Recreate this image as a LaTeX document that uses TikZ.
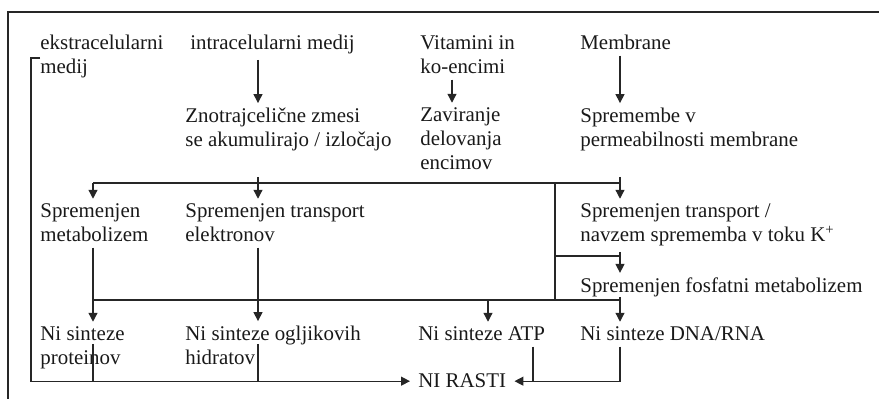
\documentclass[tikz,border=0pt]{standalone}
\usepackage{fontspec}
\setmainfont{Liberation Serif}
\usepackage{tikz}
\usetikzlibrary{arrows.meta}
\tikzset{
  txt/.style={anchor=base west, inner xsep=0pt, inner ysep=2.5pt, align=left,
    font=\fontsize{10.45}{12}\selectfont, text=black!90},
  ln/.style={line width=0.65pt, draw=black!85},
  arr/.style={ln, -{Triangle[length=4.5pt,width=4.5pt]}}
}

\begin{document}
\begin{tikzpicture}[x=0.5pt,y=-0.5pt]
\useasboundingbox (0,0) rectangle (879,399);
\draw[line width=1pt, black!85] (879,12) -- (8,12) -- (8,399);

\coordinate (xa) at (93,0);
\coordinate (xb) at (258,0);
\coordinate (xc) at (452,0);
\coordinate (xd) at (488,0);
\coordinate (xe) at (555,0);
\coordinate (xf) at (620,0);
\coordinate (xg) at (533,0);
\coordinate (stubA) at (0,177);
\coordinate (busA) at (0,183);
\coordinate (busC) at (0,256);
\coordinate (stubB) at (0,297);
\coordinate (busB) at (0,300);

\node[txt] (ekstra) at (40,74) {ekstracelularni\\medij};
\node[txt] (intra) at (190,50) {intracelularni medij};
\node[txt] (vit) at (420,74) {Vitamini in\\ko-encimi};
\node[txt] (membr) at (580,50) {Membrane};
\node[txt] (znotraj) at (185,147) {Znotrajcelične zmesi\\se akumulirajo / izločajo};
\node[txt] (zavir) at (420,170) {Zaviranje\\delovanja\\encimov};
\node[txt] (spremembe) at (580,147) {Spremembe v\\permeabilnosti membrane};
\node[txt] (spmet) at (40,242) {Spremenjen\\metabolizem};
\node[txt] (spel) at (185,242) {Spremenjen transport\\elektronov};
\node[txt] (sptr) at (580,242) {Spremenjen transport /\\navzem sprememba v toku K\textsuperscript{+}};
\node[txt] (spfos) at (580,293) {Spremenjen fosfatni metabolizem};
\node[txt] (niprot) at (40,365) {Ni sinteze\\proteinov};
\node[txt] (niog) at (185,365) {Ni sinteze ogljikovih\\hidratov};
\node[txt] (niatp) at (418,341) {Ni sinteze ATP};
\node[txt] (nidna) at (580,341) {Ni sinteze DNA/RNA};
\node[txt, inner xsep=4pt] (rasti) at (410,388) {NI RASTI};

\draw[arr] (intra.south -| xb) -- (znotraj.north -| xb);
\draw[arr] (vit.south -| xc) -- (zavir.north -| xc);
\draw[arr] (membr.south -| xf) -- (spremembe.north -| xf);

\draw[ln] (xa |- busA) -- (xf |- busA);
\draw[arr] (xa |- busA) -- (spmet.north -| xa);
\draw[arr] (xb |- stubA) -- (spel.north -| xb);
\draw[arr] (xf |- stubA) -- (sptr.north -| xf);
\draw[ln] (xe |- busA) -- (xe |- busB);
\draw[ln] (xe |- busC) -- (xf |- busC);
\draw[arr] (sptr.south -| xf) -- (spfos.north -| xf);

\draw[ln] (xa |- busB) -- (xf |- busB);
\draw[arr] (spmet.south -| xa) -- (niprot.north -| xa);
\draw[arr] (spel.south -| xb) -- (niog.north -| xb);
\draw[arr] (xd |- busB) -- (niatp.north -| xd);
\draw[arr] (xf |- stubB) -- (nidna.north -| xf);

\draw[arr] (ekstra.base west) ++(0,-16) -- ++(-9,0) |- (rasti.west);
\draw[ln] (niprot.base -| xa) ++(0,-21) -- (xa |- rasti.west);
\draw[ln] (niog.base -| xb) ++(0,-21) -- (xb |- rasti.west);
\draw[ln] (niatp.south -| xg) -- (xg |- rasti.east);
\draw[arr] (nidna.south -| xf) |- (rasti.east);
\end{tikzpicture}
\end{document}
